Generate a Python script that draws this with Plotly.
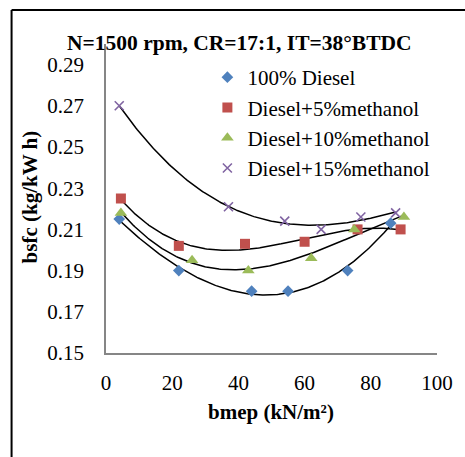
import numpy as np
import plotly.graph_objects as go

# bsfc vs bmep for diesel / methanol blends
diesel_x = [4, 22, 44, 55, 73, 86]
diesel_y = [0.215, 0.190, 0.180, 0.180, 0.190, 0.213]

m5_x = [4.5, 22, 42, 60, 76, 89]
m5_y = [0.225, 0.202, 0.203, 0.204, 0.210, 0.210]

m10_x = [4.5, 26, 43, 62, 75, 90]
m10_y = [0.218, 0.195, 0.190, 0.196, 0.210, 0.216]

m15_x = [4, 37, 54, 65, 77, 87.5]
m15_y = [0.270, 0.221, 0.214, 0.210, 0.216, 0.218]

series = [
    ("100% Diesel", diesel_x, diesel_y, "diamond", "#4F81BD", 9),
    ("Diesel+5%methanol", m5_x, m5_y, "square", "#C0504D", 10),
    ("Diesel+10%methanol", m10_x, m10_y, "triangle-up", "#9BBB59", 11),
    ("Diesel+15%methanol", m15_x, m15_y, "x-thin-open", "#8064A2", 9),
]

FONT = "Liberation Serif"
FS = 21

fig = go.Figure()

# polynomial trendlines (3rd order) through each series
for name, xs, ys, sym, col, sz in series:
    coef = np.polyfit(xs, ys, 3)
    xf = np.linspace(min(xs), max(xs), 200)
    fig.add_trace(go.Scatter(x=xf, y=np.polyval(coef, xf), mode="lines",
                             line=dict(color="black", width=1.5),
                             showlegend=False, hoverinfo="skip"))

for i, (name, xs, ys, sym, col, sz) in enumerate(series):
    marker = dict(symbol=sym, color=col, size=sz)
    if sym.startswith("x"):
        marker["line"] = dict(color=col, width=1.6)
    fig.add_trace(go.Scatter(x=xs, y=ys, mode="markers", name=name,
                             marker=marker, legendgroup=f"g{i}"))

# plot area in pixels: left 106, top 44, width 333, height 309
def px(x):
    return (x - 106) / 333

def py(y):
    return (353 - y) / 309

fig.update_layout(
    width=465, height=457,
    margin=dict(l=106, r=26, t=44, b=104),
    paper_bgcolor="white", plot_bgcolor="white",
    font=dict(family=FONT, size=FS, color="black"),
    showlegend=True,
    legend=dict(x=px(208), y=py(57), xanchor="left", yanchor="top",
                bgcolor="rgba(0,0,0,0)", font=dict(family=FONT, size=FS),
                traceorder="grouped", tracegroupgap=0, itemwidth=30),
    xaxis=dict(range=[0, 100], dtick=20, showgrid=False, zeroline=False,
               showline=True, linecolor="#868686", linewidth=1.5,
               ticks="", ticklabelstandoff=10,
               tickfont=dict(family=FONT, size=FS)),
    yaxis=dict(range=[0.15, 0.30], tick0=0.15, dtick=0.02, tickformat=".2f",
               showgrid=False, zeroline=False,
               showline=True, linecolor="#868686", linewidth=1.5,
               ticks="", ticklabelstandoff=16,
               tickfont=dict(family=FONT, size=FS)),
    annotations=[
        dict(text="<b>N=1500 rpm, CR=17:1, IT=38°BTDC</b>", x=px(240), y=py(43),
             xref="paper", yref="paper", showarrow=False,
             xanchor="center", yanchor="middle", font=dict(family=FONT, size=21.5)),
        dict(text="<b>bsfc (kg/kW h)</b>", x=px(30), y=py(197), textangle=-90,
             xref="paper", yref="paper", showarrow=False,
             xanchor="center", yanchor="middle", font=dict(family=FONT, size=FS)),
        dict(text="<b>bmep (kN/m²)</b>", x=px(272), y=py(412),
             xref="paper", yref="paper", showarrow=False,
             xanchor="center", yanchor="middle", font=dict(family=FONT, size=FS)),
    ],
    shapes=[
        dict(type="line", xref="paper", yref="paper", x0=px(11), x1=px(11),
             y0=py(470), y1=py(10), line=dict(color="black", width=2)),
        dict(type="line", xref="paper", yref="paper", x0=px(11), x1=px(480),
             y0=py(10), y1=py(10), line=dict(color="black", width=2)),
    ],
)

fig.write_html("out.html")
